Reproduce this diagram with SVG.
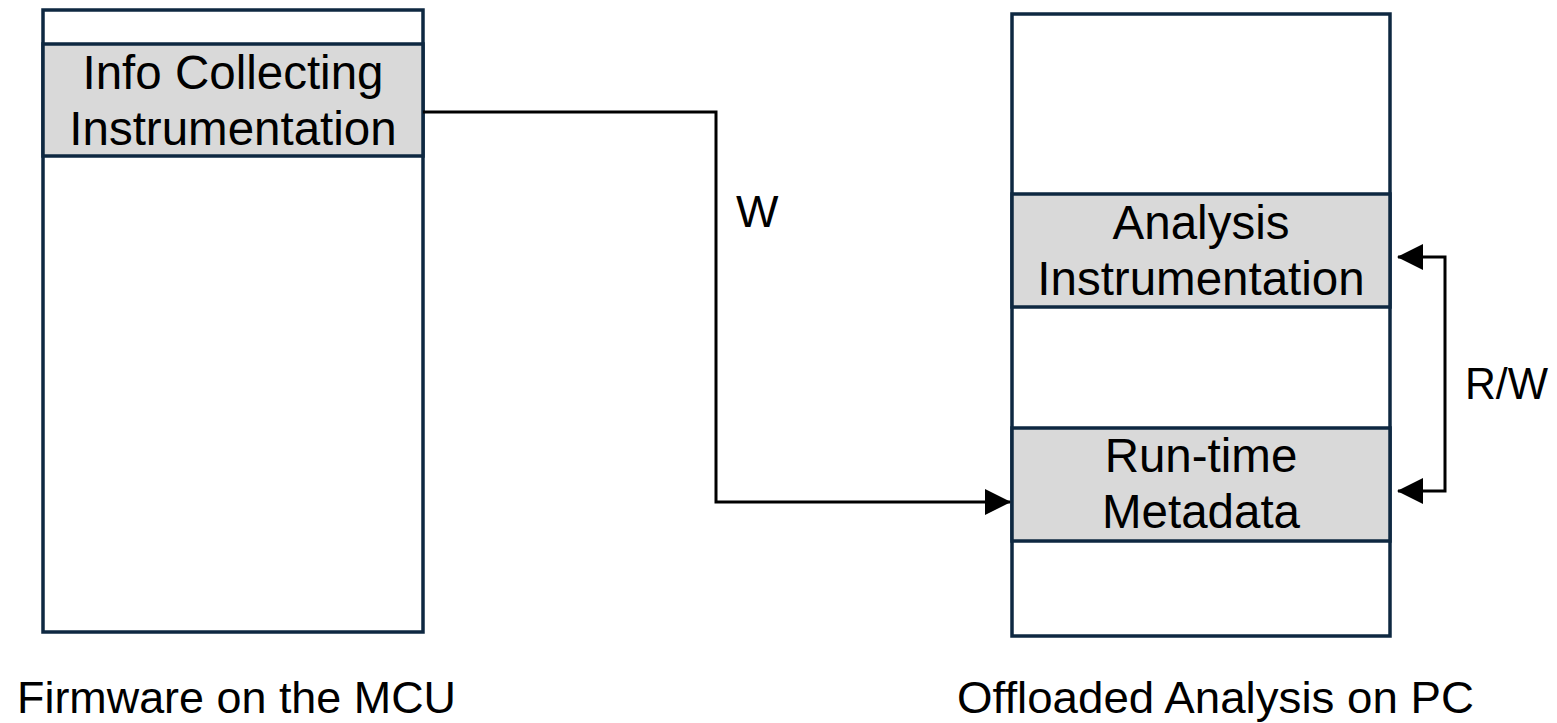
<svg xmlns="http://www.w3.org/2000/svg" width="1557" height="723" viewBox="0 0 1557 723">
  <style>
    .box { fill: #ffffff; stroke: #0e2841; stroke-width: 3.5; }
    .band { fill: #d9d9d9; stroke: #0e2841; stroke-width: 3.5; }
    .t { font-family: "Liberation Sans", Arial, sans-serif; font-size: 45px; fill: #000000; }
    .in { font-size: 47.5px; }
    .c { text-anchor: middle; }
    .conn { fill: none; stroke: #000000; stroke-width: 3; }
  </style>
  <defs>
    <marker id="arrow" markerUnits="userSpaceOnUse" markerWidth="26" markerHeight="26" viewBox="0 0 26 26" refX="25" refY="13" orient="auto-start-reverse">
      <path d="M0,0 L26,13 L0,26 z" fill="#000000"/>
    </marker>
  </defs>
  <rect width="1557" height="723" fill="#ffffff"/>

  <g id="firmware">
    <rect class="box" x="43" y="10" width="380" height="622"/>
    <rect class="band" x="43" y="44" width="380" height="112"/>
    <text class="t in c" x="233" y="89">Info Collecting</text>
    <text class="t in c" x="233" y="145">Instrumentation</text>
    <text class="t" x="17" y="713" textLength="439" lengthAdjust="spacingAndGlyphs">Firmware on the MCU</text>
  </g>

  <g id="analysis-pc">
    <rect class="box" x="1012" y="14" width="378" height="622"/>
    <rect class="band" x="1012" y="194" width="378" height="113"/>
    <rect class="band" x="1012" y="428" width="378" height="113"/>
    <text class="t in c" x="1201" y="239">Analysis</text>
    <text class="t in c" x="1201" y="295">Instrumentation</text>
    <text class="t in c" x="1201" y="472">Run-time</text>
    <text class="t in c" x="1201" y="528">Metadata</text>
    <text class="t" x="957" y="713" textLength="517" lengthAdjust="spacingAndGlyphs">Offloaded Analysis on PC</text>
  </g>

  <g id="connectors">
    <path class="conn" d="M423,112 H716 V502 H1010" marker-end="url(#arrow)"/>
    <text class="t" x="736" y="227">W</text>
    <path class="conn" d="M1398,257 H1445 V491 H1398" marker-start="url(#arrow)" marker-end="url(#arrow)"/>
    <text class="t" x="1465" y="399" textLength="83" lengthAdjust="spacingAndGlyphs">R/W</text>
  </g>
</svg>
